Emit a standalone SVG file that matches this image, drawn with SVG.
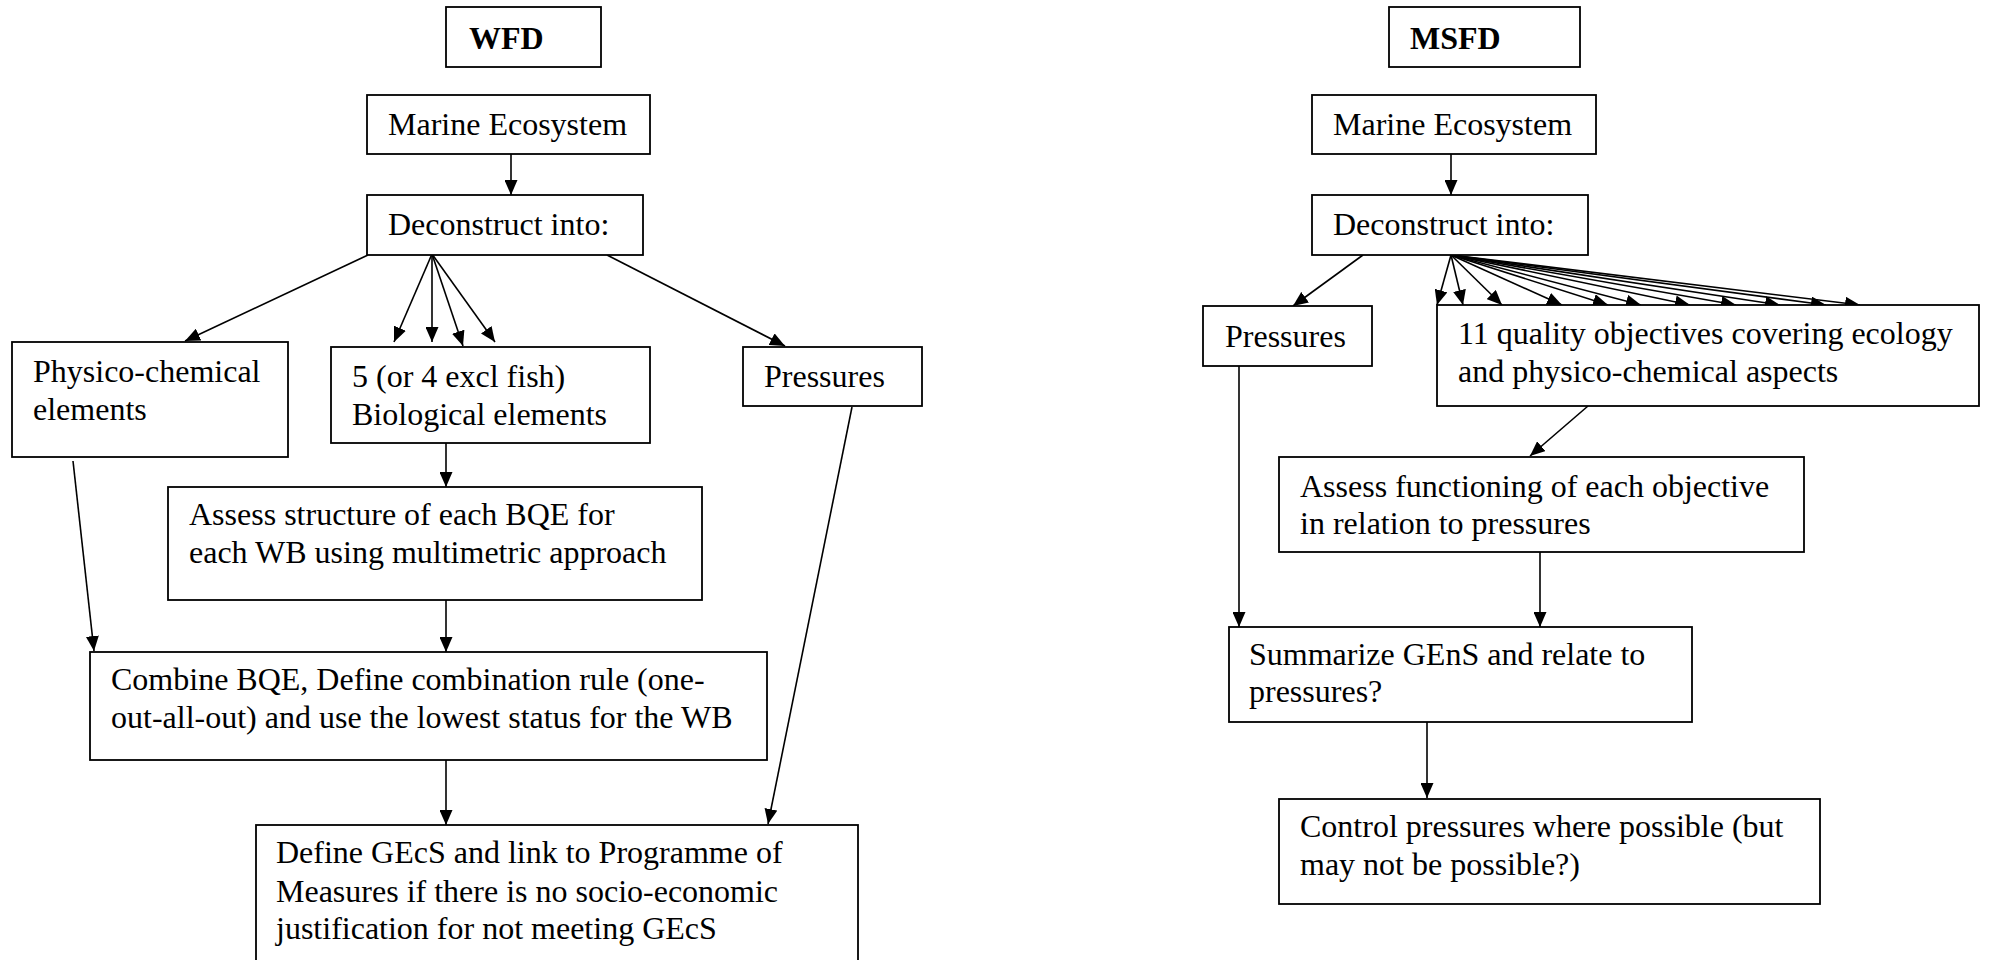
<svg xmlns="http://www.w3.org/2000/svg" width="1989" height="960" viewBox="0 0 1989 960" font-family="'Liberation Serif', 'Times New Roman', Tinos, 'Noto Serif', 'DejaVu Serif', serif">
<style>
.box{fill:#fff;stroke:#000;stroke-width:1.8}
.t{font-family:'Liberation Serif','Times New Roman',Tinos,'Noto Serif','DejaVu Serif',serif;font-size:32px;font-weight:400;fill:#000}
.b{font-weight:700}
.c{stroke:#000;stroke-width:1.6;fill:none;marker-end:url(#ah)}
</style>
<defs>
<marker id="ah" markerUnits="userSpaceOnUse" markerWidth="16" markerHeight="13" refX="15" refY="6.5" orient="auto">
<path d="M0,0 L15,6.5 L0,13 z" fill="#000"/>
</marker>
</defs>
<rect width="1989" height="960" fill="#fff"/>

<g id="connectors">
<line class="c" x1="511" y1="154" x2="511" y2="195"/>
<line class="c" x1="368" y1="255" x2="185" y2="341"/>
<line class="c" x1="432" y1="254" x2="394" y2="342"/>
<line class="c" x1="432" y1="254" x2="432" y2="342"/>
<line class="c" x1="432" y1="254" x2="463" y2="346"/>
<line class="c" x1="432" y1="254" x2="495" y2="342"/>
<line class="c" x1="607" y1="255" x2="785" y2="346"/>
<line class="c" x1="446" y1="443" x2="446" y2="487"/>
<line class="c" x1="73" y1="461" x2="94" y2="651"/>
<line class="c" x1="446" y1="600" x2="446" y2="652"/>
<line class="c" x1="446" y1="760" x2="446" y2="825"/>
<line class="c" x1="852" y1="407" x2="768" y2="824"/>

<line class="c" x1="1451" y1="154" x2="1451" y2="195"/>
<line class="c" x1="1363" y1="255" x2="1293" y2="306"/>
<line class="c" x1="1451" y1="255" x2="1437" y2="305"/>
<line class="c" x1="1451" y1="255" x2="1463" y2="305"/>
<line class="c" x1="1451" y1="255" x2="1502" y2="305"/>
<line class="c" x1="1451" y1="255" x2="1562" y2="305"/>
<line class="c" x1="1451" y1="255" x2="1608" y2="305"/>
<line class="c" x1="1451" y1="255" x2="1641" y2="305"/>
<line class="c" x1="1451" y1="255" x2="1690" y2="305"/>
<line class="c" x1="1451" y1="255" x2="1736" y2="305"/>
<line class="c" x1="1451" y1="255" x2="1780" y2="305"/>
<line class="c" x1="1451" y1="255" x2="1826" y2="305"/>
<line class="c" x1="1451" y1="255" x2="1860" y2="305"/>
<line class="c" x1="1588" y1="406" x2="1530" y2="456"/>
<line class="c" x1="1540" y1="552" x2="1540" y2="627"/>
<line class="c" x1="1239" y1="366" x2="1239" y2="627"/>
<line class="c" x1="1427" y1="722" x2="1427" y2="798"/>
</g>

<g id="wfd">
<rect class="box" x="446" y="7" width="155" height="60"/>
<text class="t b" x="469" y="49">WFD</text>
</g>
<g id="marine-left">
<rect class="box" x="367" y="95" width="283" height="59"/>
<text class="t" x="388" y="135">Marine Ecosystem</text>
</g>
<g id="deconstruct-left">
<rect class="box" x="367" y="195" width="276" height="60"/>
<text class="t" x="388" y="235">Deconstruct into:</text>
</g>
<g id="physico">
<rect class="box" x="12" y="342" width="276" height="115"/>
<text class="t" x="33" y="382">Physico-chemical<tspan x="33" y="420">elements</tspan></text>
</g>
<g id="biological">
<rect class="box" x="331" y="347" width="319" height="96"/>
<text class="t" x="352" y="387">5 (or 4 excl fish)<tspan x="352" y="425">Biological elements</tspan></text>
</g>
<g id="pressures-left">
<rect class="box" x="743" y="347" width="179" height="59"/>
<text class="t" x="764" y="387">Pressures</text>
</g>
<g id="assess-structure">
<rect class="box" x="168" y="487" width="534" height="113"/>
<text class="t" x="189" y="525">Assess structure of each BQE for<tspan x="189" y="563">each WB using multimetric approach</tspan></text>
</g>
<g id="combine">
<rect class="box" x="90" y="652" width="677" height="108"/>
<text class="t" x="111" y="690">Combine BQE, Define combination rule (one-<tspan x="111" y="728">out-all-out) and use the lowest status for the WB</tspan></text>
</g>
<g id="define-gecs">
<rect class="box" x="256" y="825" width="602" height="150"/>
<text class="t" x="276" y="863">Define GEcS and link to Programme of<tspan x="276" y="902">Measures if there is no socio-economic</tspan><tspan x="276" y="939">justification for not meeting GEcS</tspan></text>
</g>

<g id="msfd">
<rect class="box" x="1389" y="7" width="191" height="60"/>
<text class="t b" x="1410" y="49">MSFD</text>
</g>
<g id="marine-right">
<rect class="box" x="1312" y="95" width="284" height="59"/>
<text class="t" x="1333" y="135">Marine Ecosystem</text>
</g>
<g id="deconstruct-right">
<rect class="box" x="1312" y="195" width="276" height="60"/>
<text class="t" x="1333" y="235">Deconstruct into:</text>
</g>
<g id="pressures-right">
<rect class="box" x="1203" y="306" width="169" height="60"/>
<text class="t" x="1225" y="347">Pressures</text>
</g>
<g id="quality-objectives">
<rect class="box" x="1437" y="305" width="542" height="101"/>
<text class="t" x="1458" y="344">11 quality objectives covering ecology<tspan x="1458" y="382">and physico-chemical aspects</tspan></text>
</g>
<g id="assess-functioning">
<rect class="box" x="1279" y="457" width="525" height="95"/>
<text class="t" x="1300" y="497">Assess functioning of each objective<tspan x="1300" y="534">in relation to pressures</tspan></text>
</g>
<g id="summarize">
<rect class="box" x="1229" y="627" width="463" height="95"/>
<text class="t" x="1249" y="665">Summarize GEnS and relate to<tspan x="1249" y="702">pressures?</tspan></text>
</g>
<g id="control">
<rect class="box" x="1279" y="799" width="541" height="105"/>
<text class="t" x="1300" y="837">Control pressures where possible (but<tspan x="1300" y="875">may not be possible?)</tspan></text>
</g>
</svg>
